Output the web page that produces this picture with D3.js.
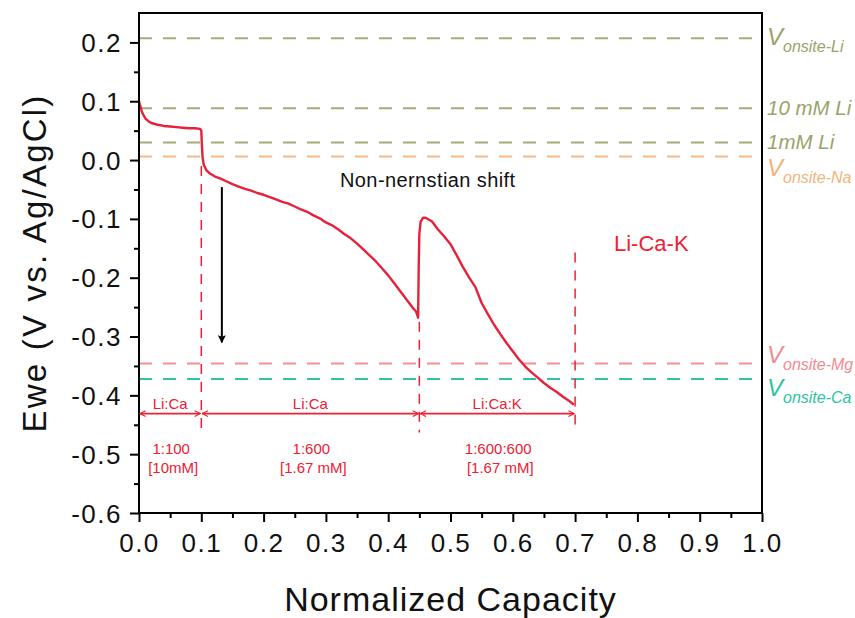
<!DOCTYPE html>
<html>
<head>
<meta charset="utf-8">
<script src="https://cdn.jsdelivr.net/npm/d3@7"></script>
<style>
  body { margin: 0; background: #fff; }
  text { font-family: Arial, "Liberation Sans", sans-serif; }
</style>
</head>
<body>
<div id="chart"></div>
<script>
// curve (normalized capacity, Ewe in V)
var capacity = [0.000, 0.002, 0.005, 0.010, 0.015, 0.020, 0.030, 0.040, 0.050, 0.060, 0.070, 0.080, 0.090, 0.098,
  0.100, 0.101, 0.102, 0.104, 0.108, 0.114, 0.122, 0.130, 0.140, 0.150, 0.160, 0.170, 0.180, 0.190, 0.200,
  0.210, 0.220, 0.230, 0.240, 0.250, 0.260, 0.270, 0.280, 0.290, 0.300, 0.310, 0.320, 0.330, 0.340, 0.350,
  0.360, 0.370, 0.380, 0.390, 0.400, 0.410, 0.420, 0.430, 0.440, 0.445, 0.448, 0.449, 0.450, 0.452, 0.456,
  0.460, 0.465, 0.470, 0.480, 0.490, 0.500, 0.510, 0.520, 0.530, 0.540, 0.550, 0.560, 0.570, 0.580, 0.590,
  0.600, 0.610, 0.620, 0.630, 0.640, 0.650, 0.660, 0.670, 0.680, 0.690, 0.698];
var ewe = [0.100, 0.092, 0.081, 0.071, 0.066, 0.063, 0.060, 0.058, 0.057, 0.056, 0.055, 0.054, 0.054, 0.053,
  0.050, 0.025, 0.005, -0.008, -0.017, -0.023, -0.028, -0.031, -0.036, -0.041, -0.045, -0.049, -0.052, -0.056, -0.059,
  -0.063, -0.067, -0.071, -0.074, -0.079, -0.084, -0.088, -0.094, -0.099, -0.106, -0.111, -0.118, -0.126, -0.133, -0.142,
  -0.152, -0.162, -0.172, -0.184, -0.196, -0.210, -0.224, -0.238, -0.252, -0.258, -0.268, -0.180, -0.125, -0.105, -0.098,
  -0.098, -0.101, -0.104, -0.118, -0.130, -0.143, -0.162, -0.182, -0.200, -0.216, -0.243, -0.262, -0.280, -0.296, -0.311,
  -0.325, -0.339, -0.351, -0.361, -0.370, -0.379, -0.387, -0.394, -0.402, -0.409, -0.416];

// reference potentials (horizontal dashed lines)
var refNames = ["Li", "10 mM Li", "1mM Li", "Na", "Mg", "Ca"];
var refValues = [0.207, 0.088, 0.030, 0.006, -0.346, -0.372];
var refColors = ["#a5ac7b", "#a5ac7b", "#a5ac7b", "#f5b985", "#f58f94", "#30c4a6"];

// composition regions
var regionStart = [0.0, 0.1, 0.45];
var regionEnd = [0.1, 0.45, 0.7];
var regionNames = ["Li:Ca", "Li:Ca", "Li:Ca:K"];
var regionRatio = ["1:100", "1:600", "1:600:600"];
var regionConc = ["[10mM]", "[1.67 mM]", "[1.67 mM]"];
var markerTop = [-0.01, -0.275, -0.157];   // where each vertical dashed marker starts

var xTicks = [0, 0.1, 0.2, 0.3, 0.4, 0.5, 0.6, 0.7, 0.8, 0.9, 1.0];
var yTicks = [0.2, 0.1, 0.0, -0.1, -0.2, -0.3, -0.4, -0.5, -0.6];

var W = 855, H = 618;
var pLeft = 139, pRight = 762, pTop = 13, pBottom = 513;
var red = "#ee2033";

var svg = d3.select("#chart").append("svg")
    .attr("width", W)
    .attr("height", H);

var x = d3.scaleLinear().domain([0, 1]).range([pLeft, pRight]);
var y = d3.scaleLinear().domain([-0.6, 0.25]).range([pBottom, pTop]);

// plain hyphen for negatives, like the original
var fmt = function(d) { return d.toFixed(1).replace("\u2212", "-"); };

// minor ticks
var xMinor = d3.range(0.05, 1, 0.1);
var yMinor = d3.range(-0.55, 0.25, 0.1);

var xAxis = svg.append("g")
    .attr("transform", "translate(0," + pBottom + ")")
    .call(d3.axisBottom(x).tickValues(xTicks).tickFormat(fmt).tickSize(9).tickPadding(7));
var xAxisMinor = svg.append("g")
    .attr("transform", "translate(0," + pBottom + ")")
    .call(d3.axisBottom(x).tickValues(xMinor).tickFormat("").tickSize(5));
var yAxis = svg.append("g")
    .attr("transform", "translate(" + pLeft + ",0)")
    .call(d3.axisLeft(y).tickValues(yTicks).tickFormat(fmt).tickSize(9).tickPadding(8));
var yAxisMinor = svg.append("g")
    .attr("transform", "translate(" + pLeft + ",0)")
    .call(d3.axisLeft(y).tickValues(yMinor).tickFormat("").tickSize(5));

[xAxis, xAxisMinor, yAxis, yAxisMinor].forEach(function(g) {
    g.select(".domain").remove();
    g.selectAll("line").attr("stroke", "#000").attr("stroke-width", 2);
    g.selectAll("text").attr("font-size", 26).attr("fill", "#111")
        .attr("letter-spacing", 1.5)
        .style("font-family", "Arial, 'Liberation Sans', sans-serif");
});
xAxis.selectAll("text").attr("dy", "0.9em");
yAxis.selectAll("text").attr("dy", "0.35em");

// reference lines
svg.selectAll(".ref")
    .data(refValues)
    .enter().append("line")
    .attr("x1", pLeft)
    .attr("x2", pRight)
    .attr("y1", function(d) { return y(d); })
    .attr("y2", function(d) { return y(d); })
    .attr("stroke", function(d, i) { return refColors[i]; })
    .attr("stroke-width", 2)
    .attr("stroke-dasharray", "13,11");

// vertical dashed markers at region boundaries
var markerX = [regionEnd[0], regionEnd[1], regionEnd[2]];
svg.selectAll(".marker")
    .data(markerX)
    .enter().append("line")
    .attr("x1", function(d) { return x(d); })
    .attr("x2", function(d) { return x(d); })
    .attr("y1", function(d, i) { return y(markerTop[i]); })
    .attr("y2", y(-0.463))
    .attr("stroke", red)
    .attr("stroke-width", 1.5)
    .attr("stroke-dasharray", "10,8");

// potential curve
var line = d3.line()
    .x(function(d, i) { return x(capacity[i]); })
    .y(function(d, i) { return y(ewe[i]); });
svg.append("path")
    .attr("d", line(capacity))
    .attr("fill", "none")
    .attr("stroke", "#e8203a")
    .attr("stroke-width", 2.4)
    .attr("stroke-linejoin", "round");

// frame
svg.append("rect")
    .attr("x", pLeft)
    .attr("y", pTop)
    .attr("width", pRight - pLeft)
    .attr("height", pBottom - pTop)
    .attr("fill", "none")
    .attr("stroke", "#000")
    .attr("stroke-width", 2);

// arrow markers
var defs = svg.append("defs");
defs.append("marker")
    .attr("id", "open")
    .attr("viewBox", "0 0 10 10")
    .attr("refX", 9).attr("refY", 5)
    .attr("markerWidth", 7).attr("markerHeight", 7)
    .attr("markerUnits", "userSpaceOnUse")
    .attr("orient", "auto-start-reverse")
    .append("path")
    .attr("d", "M1,1 L9,5 L1,9")
    .attr("fill", "none")
    .attr("stroke", red)
    .attr("stroke-width", 1.6);
defs.append("marker")
    .attr("id", "black")
    .attr("viewBox", "0 0 10 10")
    .attr("refX", 9).attr("refY", 5)
    .attr("markerWidth", 14).attr("markerHeight", 8)
    .attr("markerUnits", "userSpaceOnUse")
    .attr("orient", "auto")
    .append("path")
    .attr("d", "M0,0 L10,5 L0,10 L2,5 Z")
    .attr("fill", "#000");

// region arrows and labels
var arrowY = y(-0.431);
regionStart.forEach(function(s, i) {
    var e = regionEnd[i];
    svg.append("line")
        .attr("x1", x(s) + 1)
        .attr("x2", x(e) - 1)
        .attr("y1", arrowY)
        .attr("y2", arrowY)
        .attr("stroke", red)
        .attr("stroke-width", 1.6)
        .attr("marker-start", "url(#open)")
        .attr("marker-end", "url(#open)");
    var cx = (x(s) + x(e)) / 2;
    svg.append("text")
        .attr("x", cx).attr("y", arrowY - 5)
        .attr("text-anchor", "middle")
        .attr("font-size", 15)
        .attr("fill", red)
        .text(regionNames[i]);
    svg.append("text")
        .attr("x", cx + 1).attr("y", 454)
        .attr("text-anchor", "middle")
        .attr("font-size", 15)
        .attr("fill", red)
        .text(regionRatio[i]);
    svg.append("text")
        .attr("x", cx + 3).attr("y", 473)
        .attr("text-anchor", "middle")
        .attr("font-size", 15)
        .attr("fill", red)
        .text(regionConc[i]);
});

// non-nernstian shift arrow
svg.append("line")
    .attr("x1", x(0.133)).attr("x2", x(0.133))
    .attr("y1", y(-0.046)).attr("y2", y(-0.31))
    .attr("stroke", "#000")
    .attr("stroke-width", 2)
    .attr("marker-end", "url(#black)");
svg.append("text")
    .attr("x", 340).attr("y", 187)
    .attr("font-size", 20)
    .attr("letter-spacing", 0.4)
    .attr("fill", "#111")
    .text("Non-nernstian shift");

svg.append("text")
    .attr("x", 614).attr("y", 251)
    .attr("font-size", 22)
    .attr("fill", red)
    .text("Li-Ca-K");

// right-side labels for reference lines
function vonsite(yBase, sub, color) {
    var t = svg.append("text")
        .attr("x", 767).attr("y", yBase)
        .attr("fill", color)
        .attr("font-style", "italic");
    t.append("tspan").attr("font-size", 24).text("V");
    t.append("tspan").attr("font-size", 16).attr("dy", 7).text("onsite-" + sub);
}
vonsite(y(refValues[0]) + 7, "Li", "#9aa36b");
vonsite(y(refValues[3]) + 19, "Na", "#f3b47c");
vonsite(y(refValues[4]) - 1, "Mg", "#f48a90");
vonsite(y(refValues[5]) + 17, "Ca", "#2dc4a3");
[1, 2].forEach(function(i) {
    svg.append("text")
        .attr("x", 767).attr("y", y(refValues[i]) + 7)
        .attr("fill", "#9aa36b")
        .attr("font-style", "italic")
        .attr("font-size", 20.5)
        .text(refNames[i]);
});

// axis titles
svg.append("text")
    .attr("x", (pLeft + pRight) / 2)
    .attr("y", 611)
    .attr("text-anchor", "middle")
    .attr("font-size", 34)
    .attr("letter-spacing", 1)
    .attr("fill", "#111")
    .text("Normalized Capacity");
svg.append("text")
    .attr("transform", "translate(46," + ((pTop + pBottom) / 2) + ") rotate(-90)")
    .attr("text-anchor", "middle")
    .attr("font-size", 33)
    .attr("letter-spacing", 2.2)
    .attr("fill", "#111")
    .text("Ewe (V vs. Ag/AgCl)");
</script>
</body>
</html>
